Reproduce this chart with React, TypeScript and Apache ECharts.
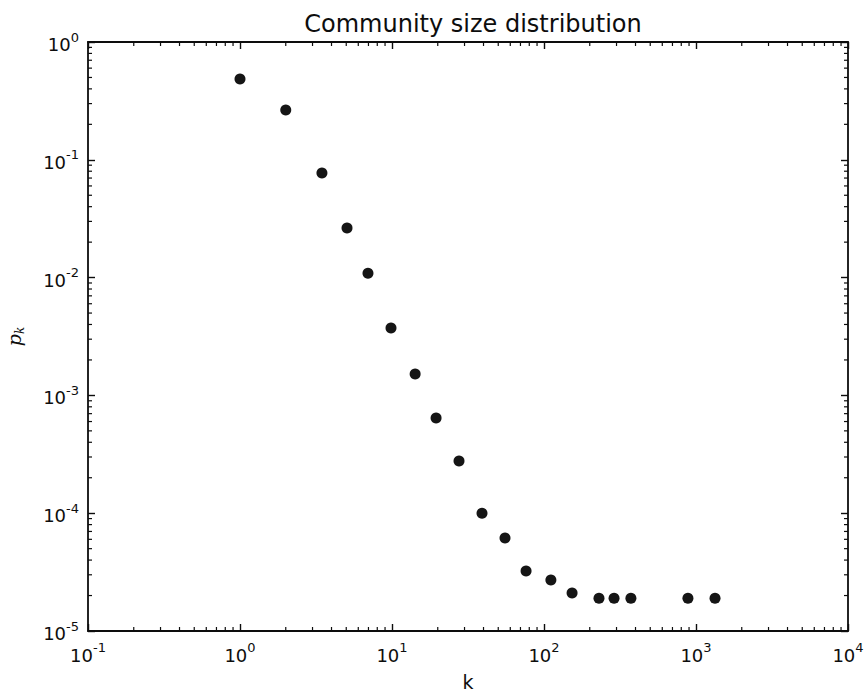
import React, { useEffect, useRef } from "react";
import * as echarts from "echarts";

const titleText = "Community size distribution";
const xName = "k";
const kValues = [1, 2, 3.46, 5.06, 6.95, 9.85, 14.2, 19.5, 27.6, 39.1, 55.4, 76.2, 111, 153, 230, 289, 373, 885, 1334];
const pValues = [0.485, 0.265, 0.0773, 0.0264, 0.0109, 0.00373, 0.00152, 0.000643, 0.000277, 0.0001, 6.15e-5, 3.23e-5, 2.71e-5, 2.1e-5, 1.9e-5, 1.9e-5, 1.9e-5, 1.9e-5, 1.9e-5];
const xDecades = [0.1, 1, 10, 100, 1000];
const yDecades = [1e-5, 1e-4, 1e-3, 1e-2, 1e-1];
const minorMultipliers = [2, 3, 4, 5, 6, 7, 8, 9];

const xMinor: number[] = [];
xDecades.forEach((d) => minorMultipliers.forEach((m) => xMinor.push(m * d)));
const yMinor: number[] = [];
yDecades.forEach((d) => minorMultipliers.forEach((m) => yMinor.push(m * d)));

const FONT = "DejaVu Sans";
const INK = "#0d0d0d";

const labelFmt = (v: number) => {
  const e = Math.round(Math.log10(v));
  return `{b|10}{s|${e}}`;
};

const labelRich = {
  b: { fontFamily: FONT, fontSize: 18, color: INK, verticalAlign: "bottom", lineHeight: 23 },
  s: { fontFamily: FONT, fontSize: 13, color: INK, verticalAlign: "top", lineHeight: 23 },
};

export default function App() {
  const ref = useRef<HTMLDivElement>(null);
  useEffect(() => {
    if (!ref.current) return;
    const chart = echarts.init(ref.current, undefined, { renderer: "svg" });
    const axisLine = { show: true, onZero: false, lineStyle: { color: INK, width: 1.8 } };
    const majorTick = { show: true, inside: true, length: 7, lineStyle: { color: INK, width: 1.4 } };
    const MINOR = 4;
    chart.setOption({
      animation: false,
      backgroundColor: "#fff",
      title: {
        text: titleText,
        left: 468,
        top: 7,
        textAlign: "center",
        textStyle: { fontFamily: FONT, fontSize: 24, fontWeight: "normal", color: INK },
      },
      grid: { left: 88, top: 42, right: 19, bottom: 63, containLabel: false, outerBoundsMode: "none" },
      xAxis: [
        {
          type: "log",
          logBase: 10,
          min: 0.1,
          max: 10000,
          position: "bottom",
          axisLine,
          axisTick: majorTick,
          splitLine: { show: false },
          axisLabel: { formatter: labelFmt, rich: labelRich, margin: 10 },
          name: xName,
          nameLocation: "middle",
          nameGap: 41,
          nameTextStyle: { fontFamily: FONT, fontSize: 19, color: INK },
        },
        {
          type: "log",
          logBase: 10,
          min: 0.1,
          max: 10000,
          position: "top",
          axisLine,
          axisTick: majorTick,
          splitLine: { show: false },
          axisLabel: { show: false },
        },
      ],
      yAxis: [
        {
          type: "log",
          logBase: 10,
          min: 1e-5,
          max: 1,
          position: "left",
          axisLine,
          axisTick: majorTick,
          splitLine: { show: false },
          axisLabel: { formatter: labelFmt, rich: labelRich, margin: 9 },
          name: "{i|p}{sub|k}",
          nameLocation: "middle",
          nameGap: 62,
          nameTextStyle: {
            rich: {
              i: { fontFamily: "DejaVu Serif", fontStyle: "italic", fontSize: 19, color: INK, verticalAlign: "top", lineHeight: 22 },
              sub: { fontFamily: "DejaVu Serif", fontStyle: "italic", fontSize: 12, color: INK, verticalAlign: "bottom", lineHeight: 22 },
            },
          },
        },
        {
          type: "log",
          logBase: 10,
          min: 1e-5,
          max: 1,
          position: "right",
          axisLine,
          axisTick: majorTick,
          splitLine: { show: false },
          axisLabel: { show: false },
        },
      ],
      series: [
        {
          type: "scatter",
          xAxisIndex: 0,
          yAxisIndex: 0,
          data: kValues.map((k, i) => [k, pValues[i]]),
          symbol: "circle",
          symbolSize: 11,
          itemStyle: { color: "#151515", opacity: 1 },
          z: 5,
        },
        {
          type: "custom",
          xAxisIndex: 0,
          yAxisIndex: 0,
          clip: false,
          silent: true,
          data: xMinor.map((v) => [v, 0.01]),
          renderItem: (params: any, api: any) => {
            const pt = api.coord([api.value(0), api.value(1)]);
            const cs = params.coordSys;
            const style = { stroke: INK, lineWidth: 1.2 };
            return {
              type: "group",
              children: [
                { type: "line", shape: { x1: pt[0], y1: cs.y + cs.height, x2: pt[0], y2: cs.y + cs.height - MINOR }, style },
                { type: "line", shape: { x1: pt[0], y1: cs.y, x2: pt[0], y2: cs.y + MINOR }, style },
              ],
            };
          },
        },
        {
          type: "custom",
          xAxisIndex: 0,
          yAxisIndex: 0,
          clip: false,
          silent: true,
          data: yMinor.map((v) => [10, v]),
          renderItem: (params: any, api: any) => {
            const pt = api.coord([api.value(0), api.value(1)]);
            const cs = params.coordSys;
            const style = { stroke: INK, lineWidth: 1.2 };
            return {
              type: "group",
              children: [
                { type: "line", shape: { x1: cs.x, y1: pt[1], x2: cs.x + MINOR, y2: pt[1] }, style },
                { type: "line", shape: { x1: cs.x + cs.width, y1: pt[1], x2: cs.x + cs.width - MINOR, y2: pt[1] }, style },
              ],
            };
          },
        },
      ],
    });
    return () => chart.dispose();
  }, []);
  return <div ref={ref} style={{ position: "fixed", left: 0, top: 0, width: 867, height: 694 }} />;
}
